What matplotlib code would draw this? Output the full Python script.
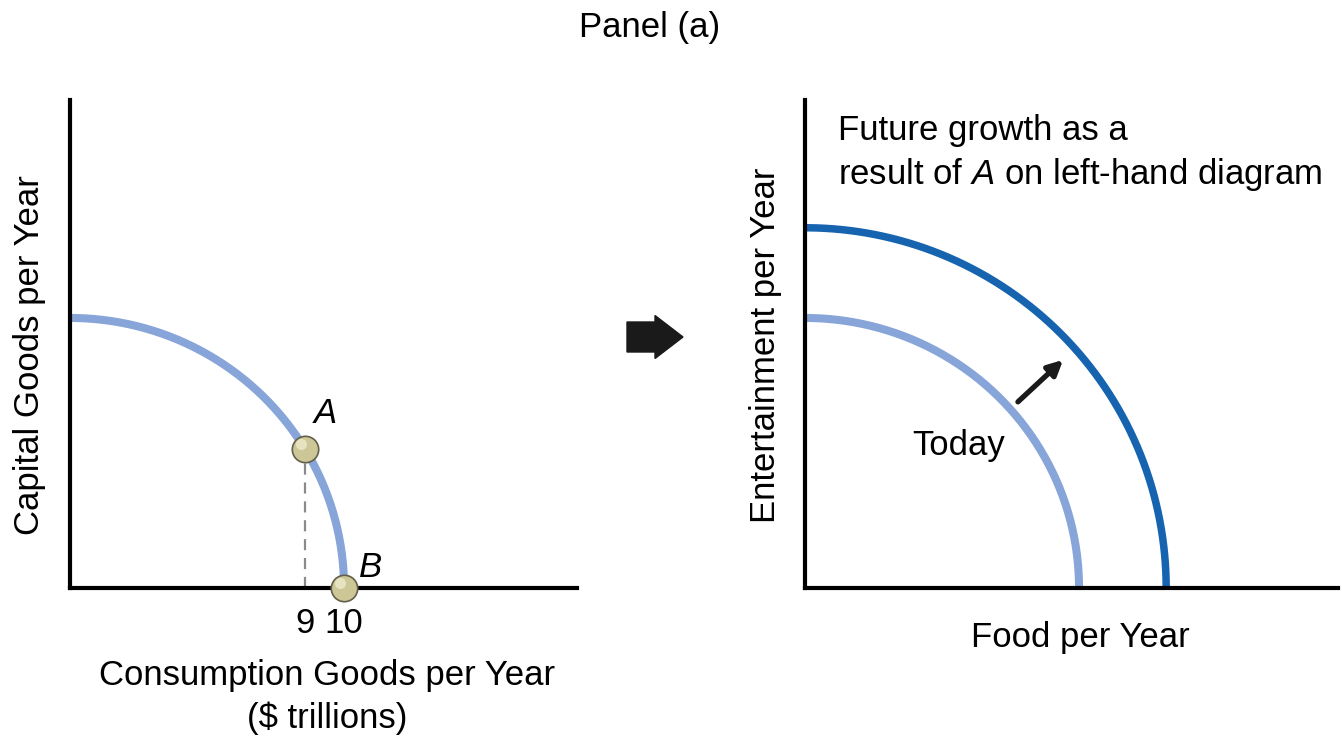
import matplotlib
matplotlib.use('Agg')
import matplotlib.pyplot as plt
import matplotlib.patches as mpatches
import numpy as np

plt.rcParams['font.family'] = ['Liberation Sans', 'DejaVu Sans']
plt.rcParams['mathtext.fontset'] = 'custom'
plt.rcParams['mathtext.rm'] = 'Liberation Sans'
plt.rcParams['mathtext.it'] = 'Liberation Sans:italic'

# frontier intercepts (x, y) in consumption units
left_frontier = (10.0, 9.85)
today_frontier = (10.0, 9.85)
future_frontier = (13.18, 13.14)
point_A = (8.58, 5.07)
point_B = (10.0, 0.0)
tick_labels = ['9', '10']
growth_arrow = [(7.77, 6.79), (9.42, 8.32)]

light_blue = '#87a5d8'
dark_blue = '#1664b0'
ball_face = '#cdc797'
ball_edge = '#62604a'
FS = 25

W, H = 1342, 736
fig = plt.figure(figsize=(W / 100, H / 100), dpi=100)


def px_axes(x0, x1, y0, y1):
    return fig.add_axes([x0 / W, 1 - y1 / H, (x1 - x0) / W, (y1 - y0) / H])


def frontier(ax, a, b, color, lw):
    t = np.linspace(0, np.pi / 2, 200)
    ax.plot(a * np.cos(t), b * np.sin(t), color=color, lw=lw,
            solid_capstyle='butt', zorder=2)


def style(ax, xmax):
    ax.set_xlim(0, xmax)
    ax.set_ylim(0, 17.8)
    for s in ['top', 'right']:
        ax.spines[s].set_visible(False)
    for s in ['left', 'bottom']:
        ax.spines[s].set_linewidth(3.0)
        ax.spines[s].set_zorder(5)
    ax.set_yticks([])
    ax.tick_params(length=0)


# Left: capital vs consumption
ax = px_axes(70, 577, 100, 588)
style(ax, 18.5)
frontier(ax, *left_frontier, light_blue, 5.8)
ax.plot([point_A[0], point_A[0]], [0, point_A[1]], color='#8a8a8a',
        lw=1.6, ls=(0, (5, 3.5)), zorder=1)
ax.plot([point_A[0], point_B[0]], [point_A[1], point_B[1]], 'o', ms=19,
        mfc=ball_face, mec=ball_edge, mew=1.2, zorder=6, clip_on=False)
ax.plot([point_A[0] - 0.14, point_B[0] - 0.14], [point_A[1] + 0.17, point_B[1] + 0.17],
        'o', ms=8, mfc='#eeeacb', mec='none', alpha=0.8, zorder=7, clip_on=False)
ax.text(point_A[0] + 0.75, point_A[1] + 1.3, 'A', style='italic', fontsize=FS,
        ha='center', va='center')
ax.text(point_B[0] + 0.95, point_B[1] + 0.75, 'B', style='italic', fontsize=FS,
        ha='center', va='center')
ax.set_xticks([point_A[0], point_B[0]])
ax.set_xticklabels(tick_labels, fontsize=FS)
ax.tick_params(axis='x', pad=14)

# Right: food vs entertainment
ax2 = px_axes(805, 1338, 100, 588)
style(ax2, 19.45)
ax2.set_xticks([])
frontier(ax2, *today_frontier, light_blue, 5.8)
frontier(ax2, *future_frontier, dark_blue, 5.4)
ax2.annotate('', xy=growth_arrow[1], xytext=growth_arrow[0],
             arrowprops=dict(arrowstyle='-|>', color='#1a1a1a', lw=3.8,
                             mutation_scale=22, shrinkA=0, shrinkB=0))
ax2.text(5.6, 5.2, 'Today', fontsize=FS, ha='center', va='center')
ax2.text(1.2, 16.7, 'Future growth as a', fontsize=FS, ha='left', va='center')
ax2.text(1.2, 15.1, r'result of $\it{A}$ on left-hand diagram', fontsize=FS,
         ha='left', va='center')

# texts in figure space
fig.text(650 / W, 1 - 27 / H, 'Panel (a)', fontsize=FS, ha='center', va='center')
fig.text(30 / W, 1 - 355 / H, 'Capital Goods per Year', fontsize=FS,
         rotation=90, ha='center', va='center')
fig.text(765 / W, 1 - 345 / H, 'Entertainment per Year', fontsize=FS,
         rotation=90, ha='center', va='center')
fig.text(327 / W, 1 - 675 / H, 'Consumption Goods per Year', fontsize=FS,
         ha='center', va='center')
fig.text(327 / W, 1 - 718 / H, '($ trillions)', fontsize=FS,
         ha='center', va='center')
fig.text(1080 / W, 1 - 638 / H, 'Food per Year', fontsize=FS,
         ha='center', va='center')

# big arrow between panels
arrow = mpatches.FancyArrow(6.27, (H - 337) / 100, 0.56, 0, width=0.30,
                            head_width=0.43, head_length=0.28,
                            length_includes_head=True, color='#1a1a1a',
                            transform=fig.dpi_scale_trans)
fig.patches.append(arrow)

plt.savefig('out.png', dpi=100)
plt.close()
